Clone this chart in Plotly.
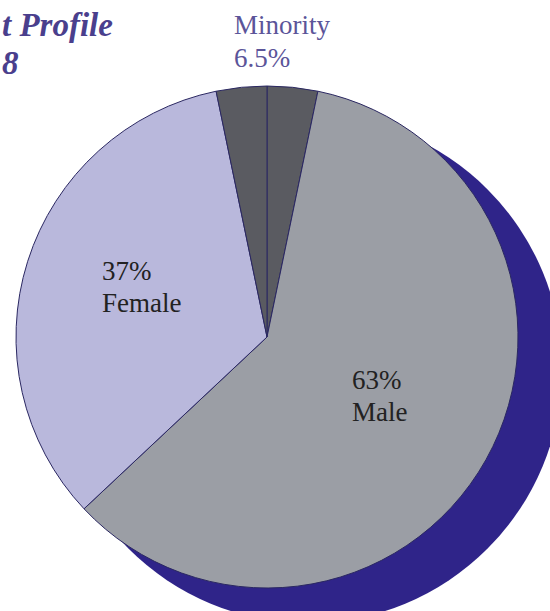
import plotly.graph_objects as go

W, H = 550, 611

# slice data (clockwise from 12 o'clock)
slice_labels = ["Minority (male)", "Male", "Female", "Minority (female)"]
slice_values = [3.25, 59.75, 33.75, 3.25]
slice_colors = ["#5a5b61", "#9b9ea5", "#b9b8dc", "#5a5b61"]

male_pct = "63%"
female_pct = "37%"
minority_pct = "6.5%"


def px(x, y):
    # pixel -> paper coordinates
    return x / W, 1 - y / H


# pie geometry in pixels
cx, cy, r = 267, 337, 251
# shadow circle (shifted down-right)
scx, scy, sr = 308, 369, 254

fig = go.Figure()

fig.add_trace(go.Pie(
    labels=slice_labels,
    values=slice_values,
    sort=False,
    direction="clockwise",
    rotation=0,
    textinfo="none",
    hoverinfo="label+percent",
    showlegend=False,
    marker=dict(colors=slice_colors, line=dict(color="#2b2862", width=1)),
    domain=dict(x=[(cx - r) / W, (cx + r) / W], y=[1 - (cy + r) / H, 1 - (cy - r) / H]),
))

# drop shadow behind the pie
sx0, sy0 = px(scx - sr, scy + sr)
sx1, sy1 = px(scx + sr, scy - sr)
fig.add_shape(type="circle", xref="paper", yref="paper",
              x0=sx0, y0=sy0, x1=sx1, y1=sy1,
              fillcolor="#2f2489", line=dict(width=0), layer="below")

serif = "'Liberation Serif', 'DejaVu Serif', serif"
annots = [
    ("t Profile", 0, 25, 33, "#4a3f8d", True),
    ("8", 0, 63, 33, "#4a3f8d", True),
    ("Minority", 232, 25, 27, "#5b5499", False),
    (minority_pct, 232, 58, 27, "#5b5499", False),
    (female_pct, 100, 271, 27, "#222222", False),
    ("Female", 100, 303, 27, "#222222", False),
    (male_pct, 350, 380, 27, "#222222", False),
    ("Male", 350, 412, 27, "#222222", False),
]
for txt, x, y, size, color, title in annots:
    ax, ay = px(x, y)
    if title:
        txt = "<b><i>" + txt + "</i></b>"
    fig.add_annotation(text=txt, x=ax, y=ay, xref="paper", yref="paper",
                       xanchor="left", yanchor="middle", showarrow=False,
                       font=dict(family=serif, size=size, color=color))

fig.update_layout(
    width=W, height=H,
    margin=dict(l=0, r=0, t=0, b=0),
    paper_bgcolor="white",
    plot_bgcolor="white",
)

fig.write_html("out.html", config={"displayModeBar": False},
               post_script="document.body.style.margin='0';")
